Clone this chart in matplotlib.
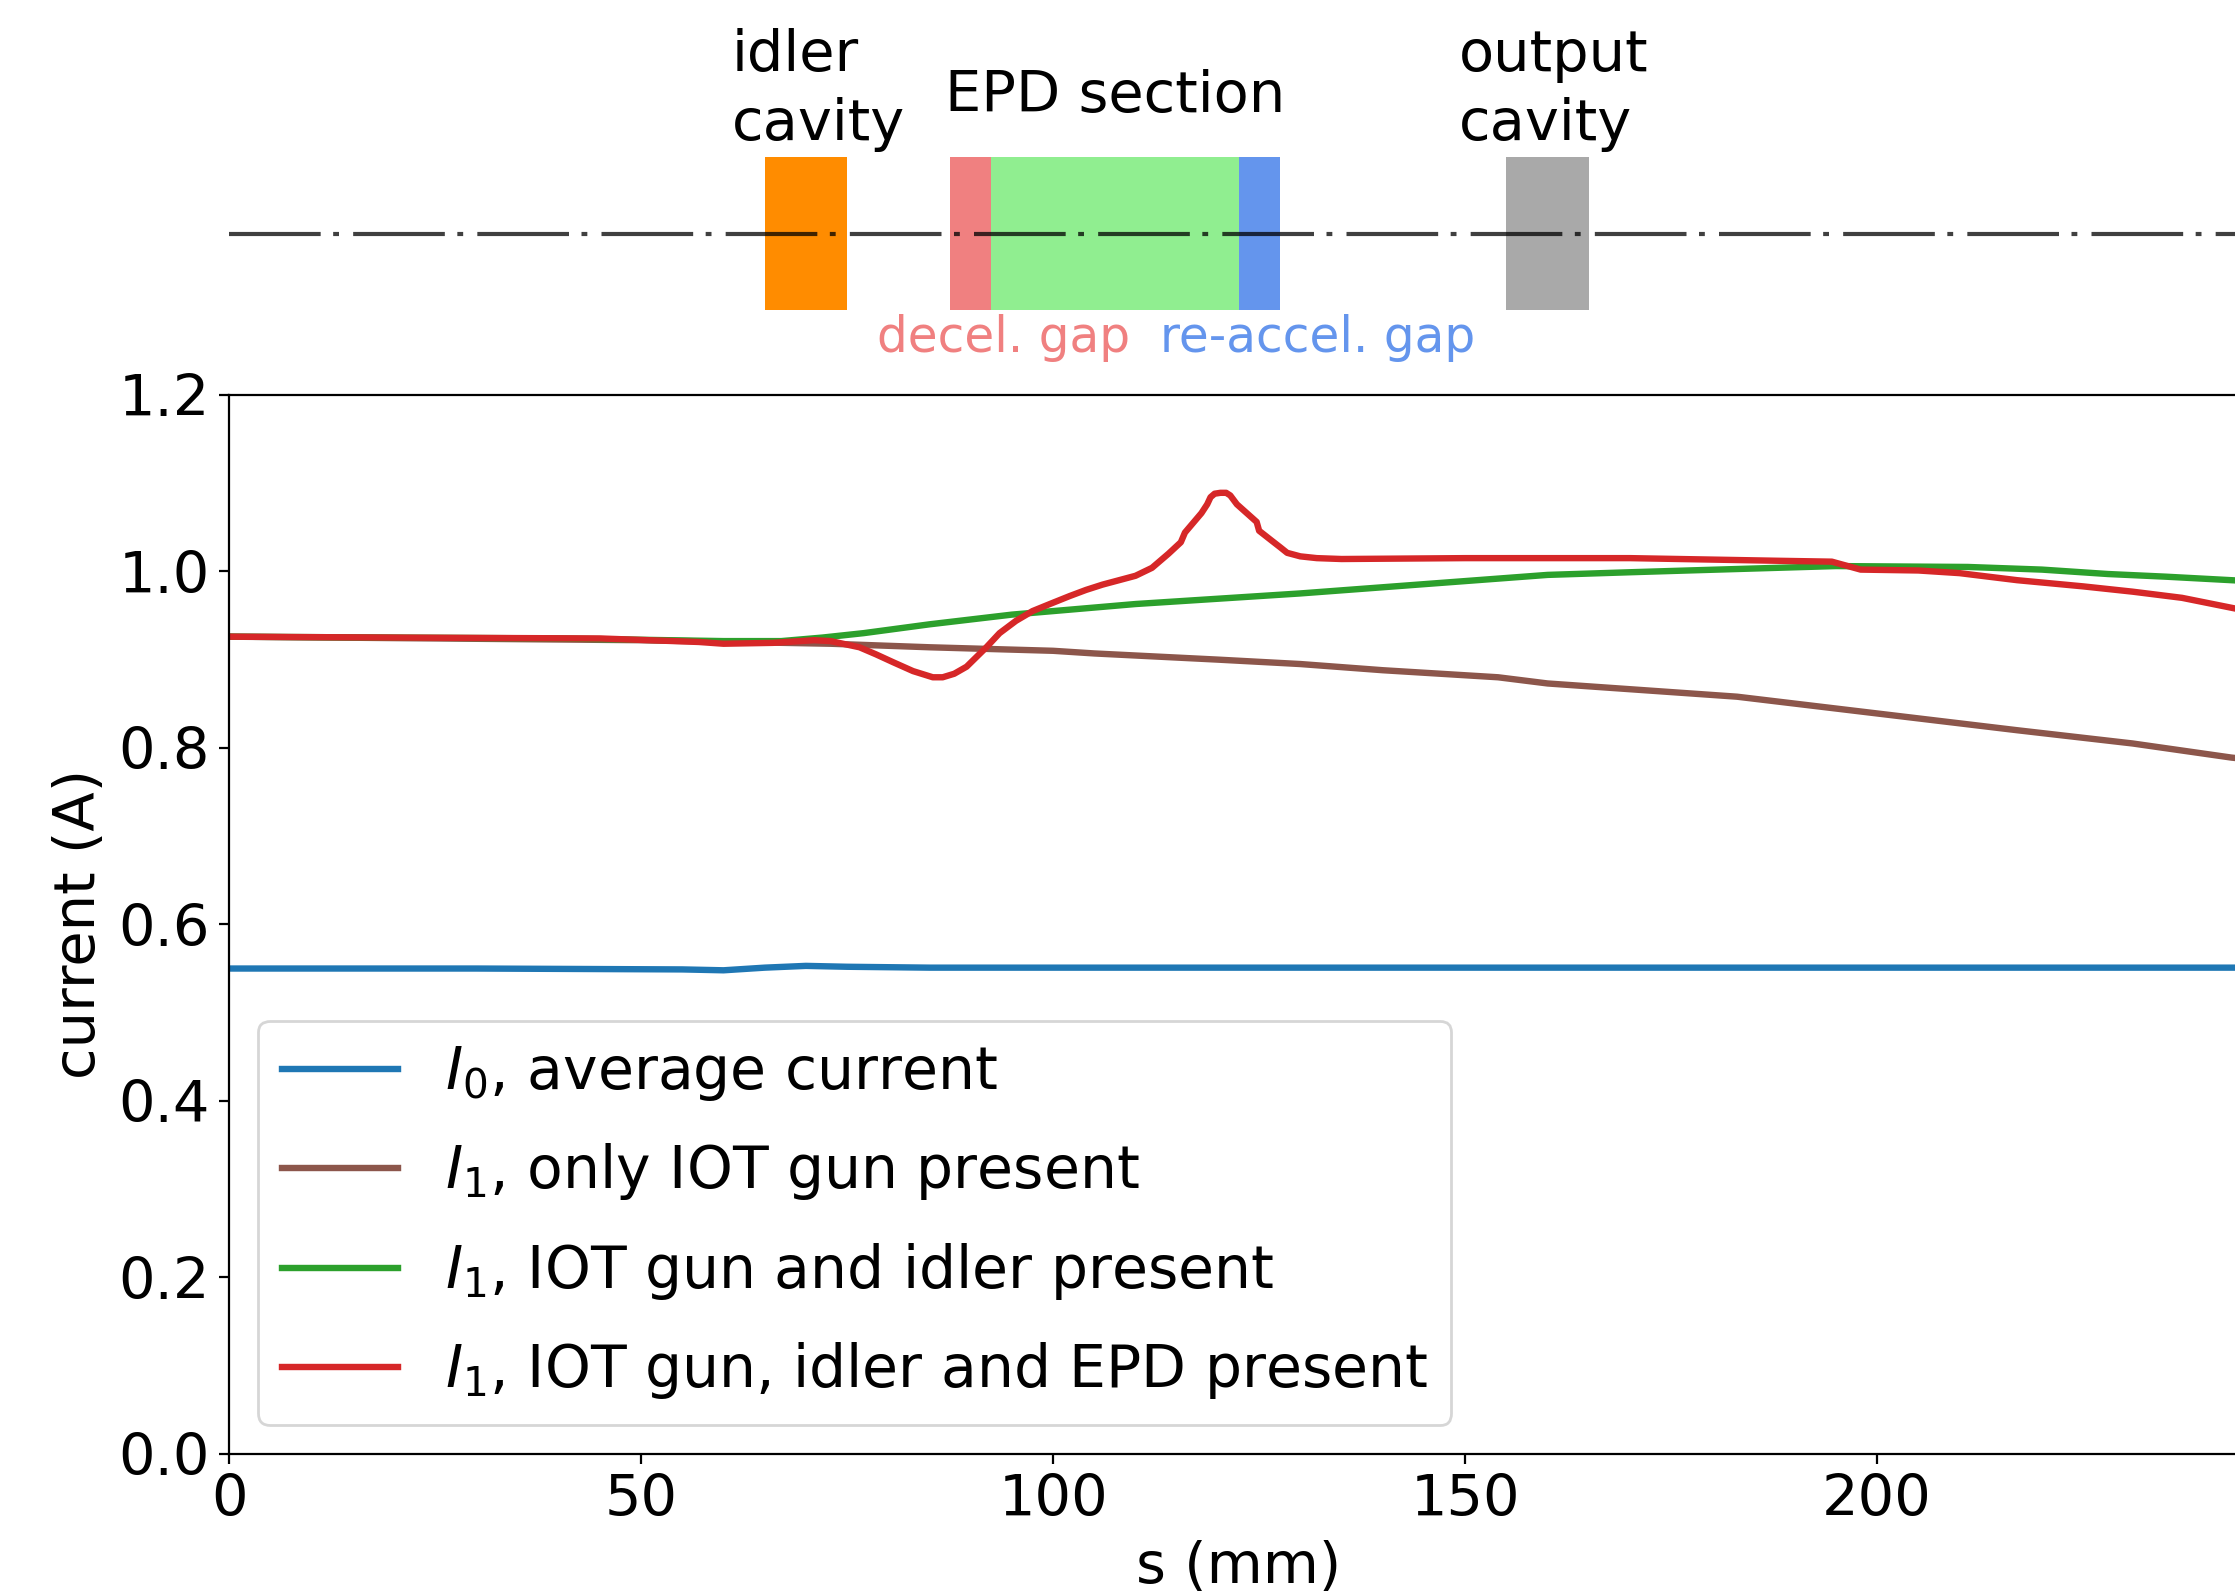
import matplotlib
matplotlib.use("Agg")
import matplotlib.pyplot as plt

# ---- data (s in mm, current in A) ----
s_avg = [0, 30, 55, 60, 65, 70, 75, 85, 100, 150, 200, 245]
i_avg = [0.550, 0.550, 0.549, 0.548, 0.551, 0.553, 0.552, 0.551, 0.551, 0.551, 0.551, 0.551]

s_gun = [0, 50, 73, 85, 100, 105, 120, 130, 140, 154, 160, 183, 200, 217, 231, 243, 245]
i_gun = [0.926, 0.922, 0.918, 0.914, 0.910, 0.907, 0.900, 0.895, 0.888, 0.880, 0.873,
         0.858, 0.839, 0.820, 0.805, 0.789, 0.787]

s_idler = [0, 40, 60, 67, 72, 77, 85, 95, 100, 105, 110, 120, 130, 140, 150, 160,
           170, 177, 195, 211, 220, 228, 235, 243, 245]
i_idler = [0.926, 0.924, 0.921, 0.921, 0.925, 0.930, 0.940, 0.951, 0.955, 0.959, 0.963,
           0.969, 0.975, 0.982, 0.989, 0.996, 0.999, 1.001, 1.006, 1.005, 1.002, 0.997,
           0.994, 0.990, 0.989]

s_epd = [0, 20, 45, 57, 60, 66, 71, 73, 76.5, 78.5, 80.6, 83, 85.4, 86.6, 88, 89.5,
         91.9, 93.5, 95.5, 97.5, 99.6, 102, 104, 106, 108, 110, 112, 113, 114, 115.5,
         116, 117, 118, 118.7, 119.1, 119.6, 120.3, 121.0, 121.5, 122.3, 123.5, 124.7,
         125, 126.5, 127.6, 128.4, 130, 132, 135, 150, 170, 182, 188, 194.5, 198, 205,
         210, 217, 225, 231, 237, 243.4, 245]
i_epd = [0.926, 0.925, 0.924, 0.920, 0.918, 0.919, 0.922, 0.921, 0.914, 0.906, 0.897,
         0.887, 0.880, 0.880, 0.884, 0.892, 0.914, 0.930, 0.944, 0.955, 0.963, 0.972,
         0.979, 0.985, 0.990, 0.995, 1.004, 1.012, 1.020, 1.033, 1.044, 1.055, 1.066,
         1.076, 1.084, 1.088, 1.089, 1.089, 1.086, 1.076, 1.066, 1.056, 1.046, 1.035,
         1.027, 1.021, 1.017, 1.015, 1.014, 1.015, 1.015, 1.013, 1.012, 1.011, 1.002,
         1.001, 0.998, 0.990, 0.983, 0.977, 0.970, 0.958, 0.955]

labels = [r"$I_0$, average current",
          r"$I_1$, only IOT gun present",
          r"$I_1$, IOT gun and idler present",
          r"$I_1$, IOT gun, idler and EPD present"]

# schematic elements: (start, end, colour)
boxes = [(65, 75, "darkorange"),
         (87.5, 92.5, "lightcoral"),
         (92.5, 122.5, "lightgreen"),
         (122.5, 127.5, "cornflowerblue"),
         (155, 165, "darkgray")]

plt.rcParams["font.size"] = 20.7

fig = plt.figure(figsize=(11.175, 7.98), dpi=200)
ax = fig.add_axes([0.1025, 0.0890, 0.9033, 0.6636])
ax_s = fig.add_axes([0.1025, 0.8058, 0.9033, 0.0957])

# ---- main current plot ----
ax.plot(s_avg, i_avg, color="tab:blue", lw=2.3, label=labels[0])
ax.plot(s_gun, i_gun, color="tab:brown", lw=2.3, label=labels[1])
ax.plot(s_idler, i_idler, color="tab:green", lw=2.3, label=labels[2])
ax.plot(s_epd, i_epd, color="tab:red", lw=2.3, label=labels[3])
ax.set_xlim(0, 245)
ax.set_ylim(0, 1.2)
ax.set_xlabel("s (mm)")
ax.set_ylabel("current (A)")
ax.legend(loc="lower left", fontsize=21, labelspacing=0.66)

# ---- schematic of the tube above ----
for x0, x1, c in boxes:
    ax_s.fill_between([x0, x1], 0, 1, color=c, lw=0)
ax_s.plot([0, 245], [0.5, 0.5], color="k", alpha=0.75, lw=1.5,
          linestyle=(0, (22, 3, 1.4, 3.4)))
ax_s.set_xlim(0, 245)
ax_s.set_ylim(0, 1)
ax_s.axis("off")

ax_s.text(61.0, 1.035, "idler\ncavity", ha="left", va="bottom", linespacing=1.32)
ax_s.text(107.5, 1.299, "EPD section", ha="center", va="baseline")
ax_s.text(149.2, 1.035, "output\ncavity", ha="left", va="bottom", linespacing=1.32)
ax_s.text(78.6, -0.273, "decel. gap", ha="left", va="baseline",
          color="lightcoral", fontsize=17.5)
ax_s.text(113.0, -0.273, "re-accel. gap", ha="left", va="baseline",
          color="cornflowerblue", fontsize=17.5)

fig.savefig("out.png", dpi=200)
